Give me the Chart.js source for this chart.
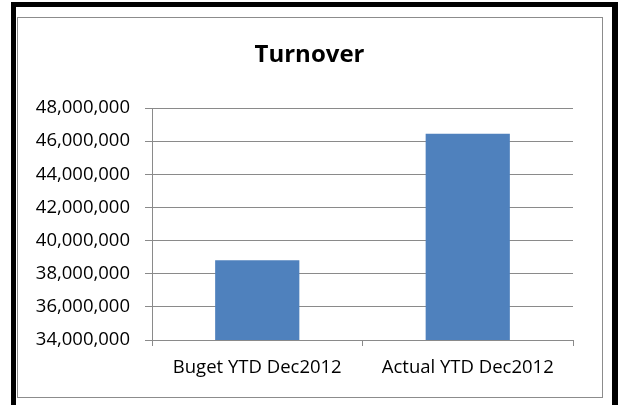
<!DOCTYPE html>
<html lang="en">
  <head>
    <meta charset="UTF-8" />
    <title>Turnover</title>
    <script src="https://cdn.jsdelivr.net/npm/chart.js"></script>
    <style>
      html,
      body {
        margin: 0;
        padding: 0;
        background: #ffffff;
        overflow: hidden;
      }
      /* black frame round the chart object */
      .outer {
        position: absolute;
        left: 11px;
        top: 2px;
        width: 596px;
        height: 420px;
        border: 5px solid #000000;
        border-right-width: 6px;
      }
      /* thin grey chart-area border */
      .inner {
        position: absolute;
        left: 17px;
        top: 17px;
        width: 584px;
        height: 379px;
        border: 1px solid #8c8c8c;
      }
      #turnoverChart {
        position: absolute;
        left: 0;
        top: 0;
      }
    </style>
  </head>

  <body>
    <div class="outer"></div>
    <div class="inner"></div>
    <canvas id="turnoverChart" width="619" height="405"></canvas>

    <script>
      // Chart data
      const categories = ["Buget YTD Dec2012", "Actual YTD Dec2012"];
      const turnover = [38820000, 46450000];
      const yTicks = [34000000, 36000000, 38000000, 40000000, 42000000, 44000000, 46000000, 48000000];

      const gridGrey = "#8a8a8a";
      const labelFont = { family: "'Open Sans', sans-serif", size: 18.5 };

      const ctx = document.getElementById("turnoverChart").getContext("2d");

      new Chart(ctx, {
        type: "bar",
        data: {
          labels: categories,
          datasets: [
            {
              label: "Turnover",
              data: turnover,
              backgroundColor: "#4f81bd",
              borderWidth: 0,
              barPercentage: 1,
              categoryPercentage: 0.4,
            },
          ],
        },
        options: {
          responsive: false,
          animation: false,
          layout: {
            padding: 0,
          },
          plugins: {
            legend: { display: false },
            tooltip: { enabled: false },
            title: {
              display: true,
              text: "Turnover",
              color: "#000000",
              font: { family: "'Open Sans', sans-serif", size: 24, weight: "bold", lineHeight: 1.2 },
              padding: { top: 41, bottom: 38.2 },
            },
          },
          scales: {
            x: {
              afterFit: (scale) => {
                scale.height = 65;
              },
              grid: {
                display: true,
                offset: true,
                drawOnChartArea: false,
                drawTicks: true,
                tickLength: 6,
                color: gridGrey,
                lineWidth: 1,
              },
              border: { display: true, color: gridGrey, width: 1 },
              ticks: {
                color: "#000000",
                font: labelFont,
                padding: 11,
                maxRotation: 0,
              },
            },
            y: {
              min: yTicks[0],
              max: yTicks[yTicks.length - 1],
              afterFit: (scale) => {
                scale.width = 152;
              },
              afterBuildTicks: (scale) => {
                scale.ticks = yTicks.map((v) => ({ value: v }));
              },
              grid: {
                color: gridGrey,
                lineWidth: 1,
                drawTicks: true,
                tickLength: 7,
              },
              border: { display: true, color: gridGrey, width: 1 },
              ticks: {
                color: "#000000",
                font: labelFont,
                padding: 15,
                callback: (v) => Number(v).toLocaleString("en-US"),
              },
            },
            // empty right-hand axis, only reserves the right margin
            yRight: {
              position: "right",
              display: true,
              afterFit: (scale) => {
                scale.width = 46;
              },
              grid: { display: false },
              border: { display: false },
              ticks: { display: false },
            },
          },
        },
      });
    </script>
  </body>
</html>
